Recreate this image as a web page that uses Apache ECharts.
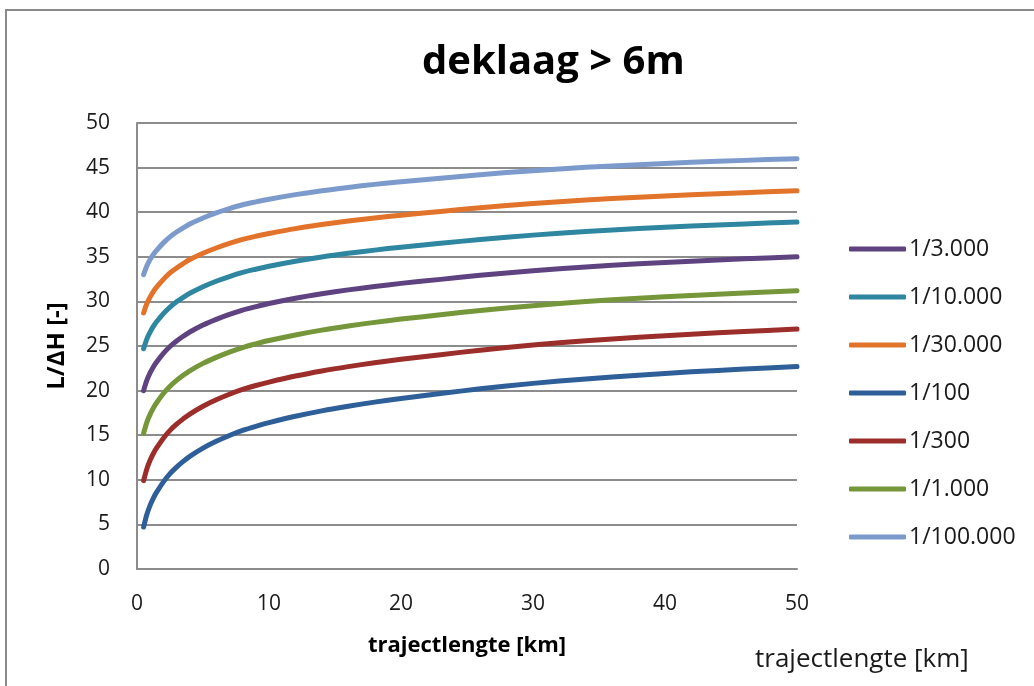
<!DOCTYPE html>
<html>
<head>
<meta charset="utf-8">
<title>deklaag &gt; 6m</title>
<script src="https://cdn.jsdelivr.net/npm/echarts@6/dist/echarts.min.js"></script>
<style>
  html, body { margin: 0; padding: 0; background: #ffffff; }
  #chart { width: 1034px; height: 686px; }
</style>
</head>
<body>
<div id="chart"></div>
<script>
// trajectlengte [km]
const trajectKm = [0.5, 0.75, 1, 1.25, 1.5, 2, 2.5, 3, 3.5, 4, 5, 6, 7, 8, 9, 10,
                   12, 14, 16, 18, 20, 23, 26, 30, 34, 38, 42, 46, 50];

// L/ΔH [-] per faalkans
const kans100    = [4.70, 6.14, 7.16, 7.98, 8.64, 9.77, 10.69, 11.42, 12.06, 12.63, 13.55, 14.31, 14.97, 15.54, 16.00, 16.41,
                    17.12, 17.73, 18.25, 18.71, 19.12, 19.67, 20.20, 20.81, 21.31, 21.73, 22.10, 22.42, 22.70];
const kans300    = [9.90, 11.25, 12.21, 12.98, 13.60, 14.67, 15.54, 16.23, 16.83, 17.37, 18.25, 18.97, 19.59, 20.13, 20.57, 20.95,
                    21.63, 22.20, 22.69, 23.12, 23.51, 24.03, 24.53, 25.11, 25.59, 25.98, 26.33, 26.63, 26.90];
const kans1000   = [15.20, 16.46, 17.36, 18.08, 18.67, 19.67, 20.49, 21.14, 21.71, 22.22, 23.05, 23.73, 24.32, 24.83, 25.24, 25.61,
                    26.24, 26.78, 27.24, 27.65, 28.02, 28.50, 28.98, 29.52, 29.98, 30.35, 30.67, 30.95, 31.20];
const kans3000   = [20.00, 21.17, 22.01, 22.68, 23.23, 24.17, 24.94, 25.56, 26.09, 26.57, 27.35, 27.99, 28.55, 29.03, 29.41, 29.76,
                    30.35, 30.85, 31.29, 31.67, 32.02, 32.47, 32.92, 33.44, 33.86, 34.21, 34.51, 34.77, 35.00];
const kans10000  = [24.70, 25.80, 26.59, 27.23, 27.74, 28.63, 29.36, 29.95, 30.45, 30.91, 31.65, 32.26, 32.79, 33.25, 33.61, 33.94,
                    34.50, 34.98, 35.39, 35.75, 36.08, 36.51, 36.94, 37.43, 37.83, 38.16, 38.45, 38.69, 38.90];
const kans30000  = [28.70, 29.76, 30.51, 31.13, 31.62, 32.47, 33.19, 33.75, 34.24, 34.69, 35.40, 35.99, 36.50, 36.95, 37.30, 37.61,
                    38.16, 38.61, 39.01, 39.36, 39.67, 40.09, 40.51, 40.98, 41.37, 41.68, 41.96, 42.19, 42.40];
const kans100000 = [33.00, 33.99, 34.71, 35.29, 35.75, 36.56, 37.24, 37.78, 38.24, 38.67, 39.35, 39.92, 40.40, 40.83, 41.16, 41.46,
                    41.97, 42.41, 42.78, 43.12, 43.41, 43.81, 44.20, 44.66, 45.03, 45.33, 45.59, 45.81, 46.00];

const legendOrder = ['1/3.000', '1/10.000', '1/30.000', '1/100', '1/300', '1/1.000', '1/100.000'];

const seriesDefs = [
  { name: '1/100',     values: kans100,    color: '#2F5F98' },
  { name: '1/300',     values: kans300,    color: '#9B2D2A' },
  { name: '1/1.000',   values: kans1000,   color: '#76963A' },
  { name: '1/3.000',   values: kans3000,   color: '#5E4380' },
  { name: '1/10.000',  values: kans10000,  color: '#2E86A0' },
  { name: '1/30.000',  values: kans30000,  color: '#E2732A' },
  { name: '1/100.000', values: kans100000, color: '#7C9BCC' }
];

const gridGray = '#8c8c8c';
const textFont = 'Open Sans, DejaVu Sans, sans-serif';

const chart = echarts.init(document.getElementById('chart'), null, { renderer: 'canvas' });

chart.setOption({
  backgroundColor: '#ffffff',
  animation: false,
  title: {
    text: 'deklaag > 6m',
    left: 417,
    top: 38,
    textStyle: { fontFamily: textFont, fontWeight: 'bold', fontSize: 40, color: '#000000' }
  },
  graphic: [
    {
      type: 'rect',
      shape: { x: 6, y: 10, width: 1200, height: 900 },
      style: { fill: 'none', stroke: '#8a8a8a', lineWidth: 2 },
      silent: true
    },
    {
      type: 'text',
      left: 755,
      top: 647,
      style: { text: 'trajectlengte [km]', fontFamily: textFont, fontSize: 26, fill: '#1a1a1a' },
      silent: true
    }
  ],
  legend: {
    orient: 'vertical',
    left: 844,
    top: 232,
    data: legendOrder,
    icon: 'roundRect',
    itemWidth: 57,
    itemHeight: 5,
    itemGap: 24,
    textStyle: { fontFamily: textFont, fontSize: 23, color: '#1a1a1a', lineHeight: 24, padding: [0, 0, 0, -2] }
  },
  grid: { left: 137, right: 237, top: 123, bottom: 117, containLabel: false },
  xAxis: {
    type: 'value',
    min: 0,
    max: 50,
    interval: 10,
    name: 'trajectlengte [km]',
    nameLocation: 'middle',
    nameGap: 66,
    nameTextStyle: { fontFamily: textFont, fontWeight: 'bold', fontSize: 22, color: '#000000' },
    axisLine: { show: true, lineStyle: { color: gridGray, width: 2 } },
    axisTick: { show: false },
    splitLine: { show: false },
    axisLabel: { fontFamily: textFont, fontSize: 21, color: '#1a1a1a', margin: 25 }
  },
  yAxis: {
    type: 'value',
    min: 0,
    max: 50,
    interval: 5,
    name: 'L/ΔH [-]',
    nameLocation: 'middle',
    nameGap: 68,
    nameRotate: 90,
    nameTextStyle: { fontFamily: textFont, fontWeight: 'bold', fontSize: 24, color: '#000000' },
    axisLine: { show: true, lineStyle: { color: gridGray, width: 2 } },
    axisTick: { show: false },
    splitLine: { show: true, lineStyle: { color: gridGray, width: 2 } },
    axisLabel: { fontFamily: textFont, fontSize: 21, color: '#1a1a1a', margin: 27 }
  },
  series: seriesDefs.map(s => ({
    name: s.name,
    type: 'line',
    data: trajectKm.map((x, i) => [x, s.values[i]]),
    smooth: 0.3,
    showSymbol: false,
    symbol: 'none',
    color: s.color,
    lineStyle: { color: s.color, width: 5, cap: 'round', join: 'round' },
    itemStyle: { color: s.color }
  }))
});
</script>
</body>
</html>
